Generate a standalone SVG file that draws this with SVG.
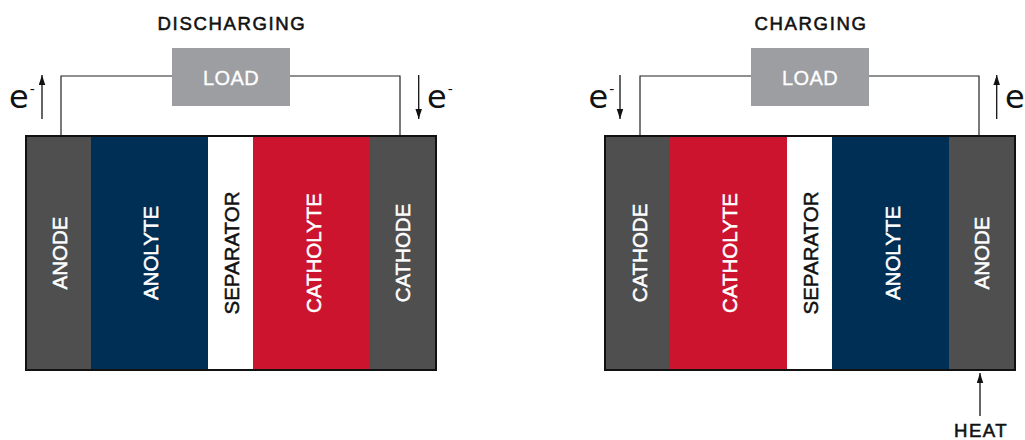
<svg xmlns="http://www.w3.org/2000/svg" width="1025" height="440" viewBox="0 0 1025 440">
<defs>
<marker id="ah" markerUnits="userSpaceOnUse" markerWidth="10" markerHeight="7" refX="10" refY="3.25" orient="auto">
<path d="M0,0 L10,3.25 L0,6.5 z" fill="#111"/>
</marker>
</defs>
<style>
.title{font-family:"Liberation Sans",Arial,sans-serif;font-size:18.6px;letter-spacing:1.6px;fill:#111;stroke:#111;stroke-width:0.55px;text-anchor:middle}
.load{fill:#9d9ea2}
.loadt{font-family:"Liberation Sans",Arial,sans-serif;font-size:20px;letter-spacing:0.4px;fill:#fff;stroke:#fff;stroke-width:0.3px;text-anchor:middle}
.lbl{font-family:"Liberation Sans",Arial,sans-serif;font-size:20.5px;text-anchor:middle;stroke-width:0.5px}
.w{fill:#fff;stroke:#fff}.k{fill:#111;stroke:#111}
.elec{fill:#4f4f4f}.navy{fill:#002f56}.red{fill:#cc142e}.sep{fill:#fff}
.frame{fill:none;stroke:#111;stroke-width:2}
.wire{fill:none;stroke:#222;stroke-width:1.2}
.arr{fill:none;stroke:#111;stroke-width:1.3;marker-end:url(#ah)}
.e{font-family:"DejaVu Sans",sans-serif;font-size:32px;fill:#111}
.sup{font-size:14px}
</style>

<text class="title" x="232" y="30">DISCHARGING</text>
<text class="title" x="811" y="30">CHARGING</text>

<g id="connectors">
<path class="wire" d="M61,136 V76 H172 M290,76 H400 V136"/>
<path class="wire" d="M640,136 V76 H751 M869,76 H979 V136"/>
<path class="arr" d="M42,119 V75"/>
<path class="arr" d="M418.7,75 V119"/>
<path class="arr" d="M620,75 V119"/>
<path class="arr" d="M996.7,119 V75"/>
<path class="arr" d="M980,416 V373"/>
</g>

<g id="load-discharging">
<rect class="load" x="172" y="48" width="118" height="58"/>
<text class="loadt" x="231" y="84.7">LOAD</text>
</g>
<g id="load-charging">
<rect class="load" x="751" y="48" width="118" height="58"/>
<text class="loadt" x="810" y="84.7">LOAD</text>
</g>

<g id="e-labels">
<text class="e" x="9" y="107.5">e<tspan class="sup" dx="1" dy="-14">-</tspan></text>
<text class="e" x="427" y="107.5">e<tspan class="sup" dx="1" dy="-14">-</tspan></text>
<text class="e" x="588.5" y="107.5">e<tspan class="sup" dx="1" dy="-14">-</tspan></text>
<text class="e" x="1005" y="107.5">e<tspan class="sup" dx="1" dy="-14">-</tspan></text>
</g>

<g id="battery-discharging">
<g id="d-anode"><rect class="elec" x="26" y="136" width="65" height="234"/><text class="lbl w" transform="translate(67.3,253) rotate(-90)">ANODE</text></g>
<g id="d-anolyte"><rect class="navy" x="91" y="136" width="117" height="234"/><text class="lbl w" transform="translate(157.7,253) rotate(-90)">ANOLYTE</text></g>
<g id="d-separator"><rect class="sep" x="208" y="136" width="45" height="234"/><text class="lbl k" transform="translate(239,253) rotate(-90)">SEPARATOR</text></g>
<g id="d-catholyte"><rect class="red" x="253" y="136" width="117" height="234"/><text class="lbl w" transform="translate(321.3,253) rotate(-90)">CATHOLYTE</text></g>
<g id="d-cathode"><rect class="elec" x="370" y="136" width="66" height="234"/><text class="lbl w" transform="translate(410,253) rotate(-90)">CATHODE</text></g>
<rect class="frame" x="26" y="136" width="410" height="234"/>
</g>

<g id="battery-charging">
<g id="c-cathode"><rect class="elec" x="605" y="136" width="65" height="234"/><text class="lbl w" transform="translate(647,253) rotate(-90)">CATHODE</text></g>
<g id="c-catholyte"><rect class="red" x="670" y="136" width="117" height="234"/><text class="lbl w" transform="translate(737,253) rotate(-90)">CATHOLYTE</text></g>
<g id="c-separator"><rect class="sep" x="787" y="136" width="45" height="234"/><text class="lbl k" transform="translate(818,253) rotate(-90)">SEPARATOR</text></g>
<g id="c-anolyte"><rect class="navy" x="832" y="136" width="117" height="234"/><text class="lbl w" transform="translate(900,253) rotate(-90)">ANOLYTE</text></g>
<g id="c-anode"><rect class="elec" x="949" y="136" width="66" height="234"/><text class="lbl w" transform="translate(989,253) rotate(-90)">ANODE</text></g>
<rect class="frame" x="605" y="136" width="410" height="234"/>
</g>

<g id="heat">
<text class="title" x="981" y="436.7" style="letter-spacing:1.4px">HEAT</text>
</g>
</svg>
